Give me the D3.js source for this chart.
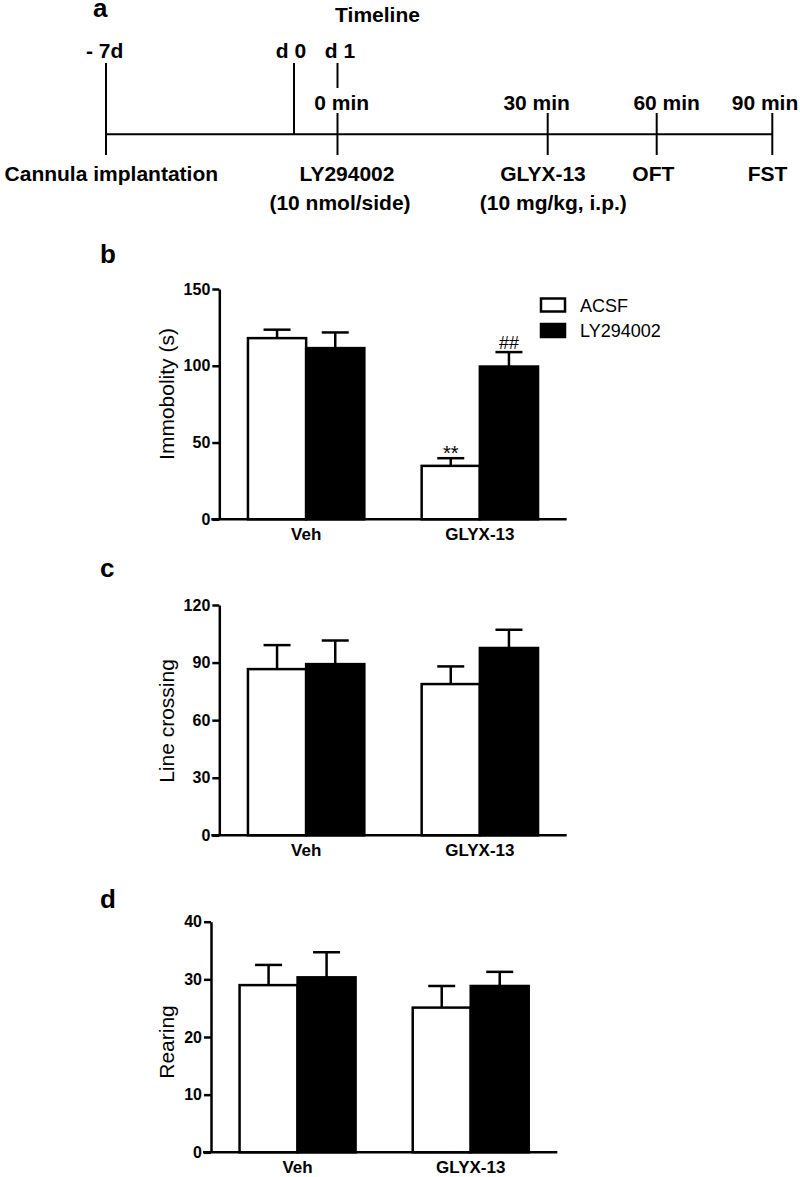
<!DOCTYPE html>
<html>
<head>
<meta charset="utf-8">
<script src="https://cdn.jsdelivr.net/npm/d3@7"></script>
<style>
  html, body { margin: 0; padding: 0; background: #fff; }
  svg { display: block; font-family: "Liberation Sans", Arial, sans-serif; }
</style>
</head>
<body>
<script>
// ---------------- DATA ----------------
const categories = ["Veh", "GLYX-13"];
const seriesNames = ["ACSF", "LY294002"];

// Panel b: Immobility (s)
const immobilityACSF = [118, 34.8];
const immobilityACSFErr = [5.5, 5.0];
const immobilityLY = [111.5, 99.5];
const immobilityLYErr = [10.2, 9.4];
const immobilityTicks = [0, 50, 100, 150];

// Panel c: Line crossing
const crossingACSF = [86.6, 78.8];
const crossingACSFErr = [12.5, 9.2];
const crossingLY = [89.2, 97.6];
const crossingLYErr = [12.3, 9.5];
const crossingTicks = [0, 30, 60, 90, 120];

// Panel d: Rearing
const rearingACSF = [29.0, 25.1];
const rearingACSFErr = [3.5, 3.75];
const rearingLY = [30.35, 28.85];
const rearingLYErr = [4.35, 2.45];
const rearingTicks = [0, 10, 20, 30, 40];

// Timeline labels
const timelineTopLabels = ["- 7d", "d 0", "d 1"];
const timelineMinLabels = ["0 min", "30 min", "60 min", "90 min"];
const timelineEventLabels = ["Cannula implantation", "LY294002", "GLYX-13", "OFT", "FST"];
const timelineDoseLabels = ["(10 nmol/side)", "(10 mg/kg, i.p.)"];

// ---------------- DRAW ----------------
const W = 800, H = 1177;
const svg = d3.select("body").append("svg").attr("width", W).attr("height", H);

const BOLD = "bold";
function txt(x, y, s, size, weight, anchor) {
  return svg.append("text").attr("x", x).attr("y", y).text(s)
    .attr("font-size", size).attr("font-weight", weight || "normal")
    .attr("text-anchor", anchor || "middle").attr("fill", "#000");
}
function line(x1, y1, x2, y2, w) {
  return svg.append("line").attr("x1", x1).attr("y1", y1).attr("x2", x2).attr("y2", y2)
    .attr("stroke", "#000").attr("stroke-width", w || 2);
}

// ---- Panel a: timeline ----
txt(93, 16.5, "a", 26, BOLD, "start");
txt(377.5, 21.7, "Timeline", 21, BOLD);

const tlY = 134.3;
const tx = { m7: 106, d0: 294, d1: 337.5, t30: 547.7, t60: 656.7, t90: 772.3 };
line(tx.m7, tlY, tx.t90, tlY, 2);
line(tx.m7, 63, tx.m7, 155, 2);
line(tx.d0, 63, tx.d0, tlY, 2);
line(tx.d1, 63, tx.d1, 88, 2);
line(tx.d1, 113, tx.d1, 155, 2);
[tx.t30, tx.t60, tx.t90].forEach(x => line(x, 113, x, 155, 2));

const topX = [104.7, 291, 340];
timelineTopLabels.forEach((s, i) => txt(topX[i], 58.3, s, 21, BOLD));
const minX = [341.7, 536.7, 666.7, 765];
timelineMinLabels.forEach((s, i) => txt(minX[i], 110, s, 21, BOLD));
const evX = [111.3, 347, 543, 653.3, 767.5];
timelineEventLabels.forEach((s, i) => txt(evX[i], 180.7, s, 21, BOLD));
const doseX = [340, 553.3];
timelineDoseLabels.forEach((s, i) => txt(doseX[i], 209.5, s, 21, BOLD));

// ---- bar panels ----
function barPanel(cfg) {
  const { letter, letterY, left, right, top, bottom, ticks, label, labelY,
          acsf, acsfErr, ly, lyErr } = cfg;
  const g = svg.append("g");
  txt(100, letterY, letter, 26, BOLD, "start");

  const y = d3.scaleLinear().domain([0, d3.max(ticks)]).range([bottom, top]);
  const x0 = d3.scaleBand().domain(categories).range([left, right])
    .paddingInner(0.33).paddingOuter(0.165);
  const x1 = d3.scaleBand().domain(seriesNames).range([0, x0.bandwidth()]).padding(0);

  const rows = categories.map((c, i) => ({
    cat: c,
    vals: [
      { s: seriesNames[0], v: acsf[i], e: acsfErr[i], fill: "#fff" },
      { s: seriesNames[1], v: ly[i], e: lyErr[i], fill: "#000" }
    ]
  }));

  const groups = g.selectAll("g.grp").data(rows).join("g")
    .attr("class", "grp").attr("transform", d => `translate(${x0(d.cat)},0)`);

  groups.selectAll("line.err").data(d => d.vals).join("line")
    .attr("class", "err")
    .attr("x1", d => x1(d.s) + x1.bandwidth() / 2)
    .attr("x2", d => x1(d.s) + x1.bandwidth() / 2)
    .attr("y1", d => y(d.v)).attr("y2", d => y(d.v + d.e))
    .attr("stroke", "#000").attr("stroke-width", 2.5);
  groups.selectAll("line.cap").data(d => d.vals).join("line")
    .attr("class", "cap")
    .attr("x1", d => x1(d.s) + x1.bandwidth() / 2 - 13.5)
    .attr("x2", d => x1(d.s) + x1.bandwidth() / 2 + 13.5)
    .attr("y1", d => y(d.v + d.e)).attr("y2", d => y(d.v + d.e))
    .attr("stroke", "#000").attr("stroke-width", 2.5);

  groups.selectAll("rect").data(d => d.vals).join("rect")
    .attr("x", d => x1(d.s)).attr("width", x1.bandwidth())
    .attr("y", d => y(d.v)).attr("height", d => y(0) - y(d.v))
    .attr("fill", d => d.fill).attr("stroke", "#000").attr("stroke-width", 2.5);

  // y axis
  const ya = g.append("g").attr("transform", `translate(${left},0)`)
    .call(d3.axisLeft(y).tickValues(ticks).tickSize(7).tickSizeOuter(0).tickPadding(2));
  ya.select(".domain").attr("stroke-width", 2.5);
  ya.selectAll(".tick line").attr("stroke-width", 2.5);
  ya.selectAll(".tick text").attr("font-size", 16).attr("font-weight", BOLD)
    .attr("font-family", "Liberation Sans, Arial, sans-serif").attr("fill", "#000");

  // x axis
  const xa = g.append("g").attr("transform", `translate(0,${bottom})`)
    .call(d3.axisBottom(x0).tickSize(0).tickPadding(0));
  xa.select(".domain").remove();
  xa.selectAll(".tick text").attr("font-size", 17).attr("font-weight", BOLD)
    .attr("font-family", "Liberation Sans, Arial, sans-serif").attr("fill", "#000")
    .attr("y", 21).attr("dy", null);
  g.append("line").attr("x1", left - 8).attr("x2", right)
    .attr("y1", bottom).attr("y2", bottom)
    .attr("stroke", "#000").attr("stroke-width", 2.5);

  // y label
  g.append("text").attr("transform", `translate(174,${labelY}) rotate(-90)`)
    .attr("text-anchor", "middle").attr("font-size", 21).text(label);

  return { x0, x1, y, g };
}

const pb = barPanel({
  letter: "b", letterY: 263, left: 219.3, right: 566.7, top: 289, bottom: 519.3,
  ticks: immobilityTicks, label: "Immobolity (s)", labelY: 394,
  acsf: immobilityACSF, acsfErr: immobilityACSFErr, ly: immobilityLY, lyErr: immobilityLYErr
});
// significance marks
{
  const cx = pb.x0("GLYX-13");
  const xa = cx + pb.x1("ACSF") + pb.x1.bandwidth() / 2;
  const xl = cx + pb.x1("LY294002") + pb.x1.bandwidth() / 2;
  txt(xa, pb.y(immobilityACSF[1] + immobilityACSFErr[1]) + 2, "**", 20, "normal");
  txt(xl, pb.y(immobilityLY[1] + immobilityLYErr[1]) - 3, "##", 18, "normal");
}
// legend
{
  const lg = svg.append("g");
  const items = [{ s: seriesNames[0], fill: "#fff", y: 298.5 }, { s: seriesNames[1], fill: "#000", y: 324 }];
  items.forEach(it => {
    lg.append("rect").attr("x", 541).attr("y", it.y).attr("width", 24).attr("height", 13)
      .attr("fill", it.fill).attr("stroke", "#000").attr("stroke-width", 2.5);
    lg.append("text").attr("x", 580).attr("y", it.y + 13).attr("font-size", 18).text(it.s);
  });
}

barPanel({
  letter: "c", letterY: 577, left: 219.3, right: 566.7, top: 605, bottom: 835.3,
  ticks: crossingTicks, label: "Line crossing", labelY: 721,
  acsf: crossingACSF, acsfErr: crossingACSFErr, ly: crossingLY, lyErr: crossingLYErr
});

barPanel({
  letter: "d", letterY: 908, left: 211, right: 557.3, top: 921.7, bottom: 1152.3,
  ticks: rearingTicks, label: "Rearing", labelY: 1042,
  acsf: rearingACSF, acsfErr: rearingACSFErr, ly: rearingLY, lyErr: rearingLYErr
});
</script>
</body>
</html>
